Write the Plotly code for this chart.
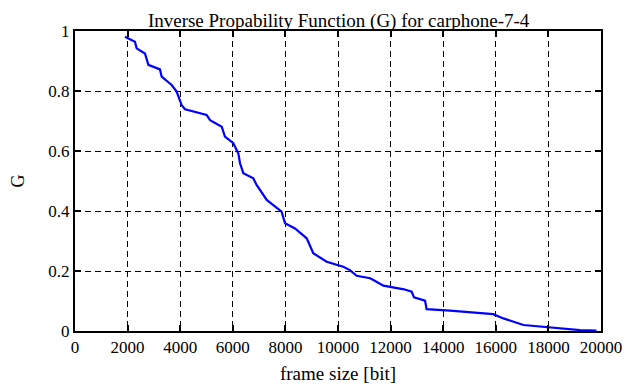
import plotly.graph_objects as go

frame_size = [1900, 2280, 2345, 2660, 2790, 3230, 3295, 3675, 3865, 4055, 4185, 5005,
              5135, 5580, 5700, 6020, 6210, 6275, 6400, 6780, 6905, 7290, 7855, 7985,
              8365, 8810, 9060, 9570, 10200, 10455, 10710, 11220, 11345, 11725, 12510,
              12800, 12890, 13310, 13370, 14260, 15900, 16290, 17050, 18310, 19200, 19830]
G = [0.981, 0.964, 0.942, 0.925, 0.887, 0.872, 0.848, 0.820, 0.798, 0.753, 0.739, 0.720,
     0.703, 0.681, 0.648, 0.626, 0.592, 0.559, 0.526, 0.509, 0.487, 0.437, 0.398, 0.359,
     0.342, 0.309, 0.259, 0.231, 0.214, 0.203, 0.184, 0.176, 0.170, 0.151, 0.139,
     0.131, 0.112, 0.101, 0.073, 0.068, 0.056, 0.042, 0.020, 0.009, 0.003, 0.001]

x_ticks = [0, 2000, 4000, 6000, 8000, 10000, 12000, 14000, 16000, 18000, 20000]
y_ticks = [0, 0.2, 0.4, 0.6, 0.8, 1]
y_tick_labels = ["0", "0.2", "0.4", "0.6", "0.8", "1"]

FONT = "Liberation Serif, Times New Roman, serif"

fig = go.Figure()
fig.add_trace(go.Scatter(x=frame_size, y=G, mode="lines",
                         line=dict(color="#0000ff", width=2.2), showlegend=False))

axis_common = dict(showline=True, linecolor="black", linewidth=2, mirror="allticks",
                   ticks="inside", ticklen=6, tickcolor="black", tickwidth=2,
                   showgrid=True, gridcolor="black", gridwidth=1, griddash="6px,4px",
                   zeroline=False, automargin=False,
                   tickfont=dict(family=FONT, size=17, color="black"))

fig.update_xaxes(range=[0, 20000], tickvals=x_ticks,
                 ticktext=[str(v) for v in x_ticks],
                 title=dict(text="frame size [bit]", font=dict(family=FONT, size=19, color="black"),
                            standoff=10),
                 **axis_common)
fig.update_yaxes(range=[0, 1], tickvals=y_ticks, ticktext=y_tick_labels,
                 title=dict(text="G", font=dict(family=FONT, size=18, color="black"),
                            standoff=25),
                 **axis_common)

# page body has an 8px default margin, so the figure is offset by (8, 8)
fig.update_layout(
    width=631, height=379,
    margin=dict(l=67, r=38, t=23, b=56),
    paper_bgcolor="white", plot_bgcolor="white",
    title=dict(text="Inverse Propability Function (G) for carphone-7-4",
               font=dict(family=FONT, size=19, color="black"),
               x=0.524, xanchor="center", y=0.985, yanchor="top"),
)

fig.write_html("out.html")
